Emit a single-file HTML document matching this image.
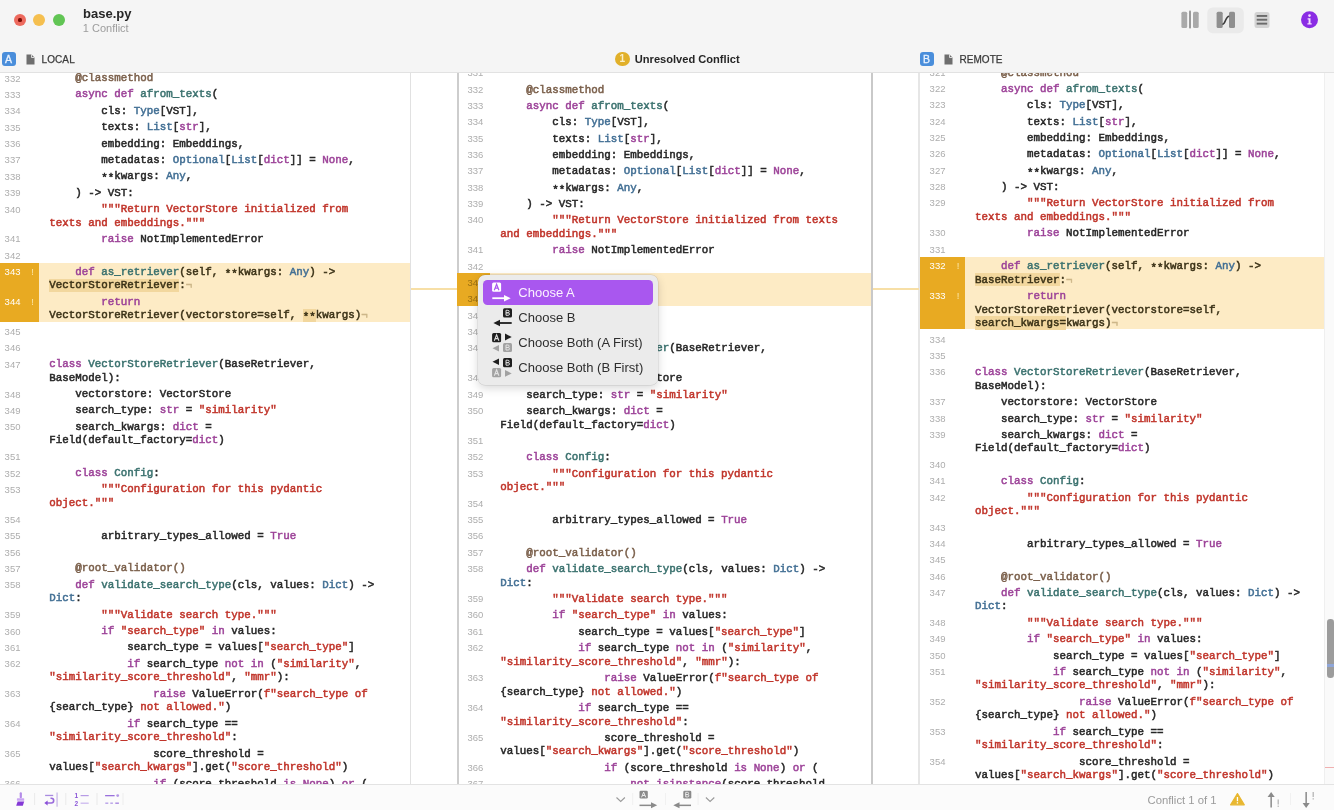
<!DOCTYPE html>
<html><head><meta charset="utf-8"><title>base.py</title>
<style>
*{margin:0;padding:0;box-sizing:border-box}
html,body{width:1334px;height:810px;overflow:hidden;background:#f5f5f5;font-family:"Liberation Sans",sans-serif;position:relative}
body{filter:blur(0.3px)}
.abs{position:absolute}
#clip{position:absolute;left:0;top:72.5px;width:1334px;height:711.5px;overflow:hidden;background:#fff}
#inner{position:absolute;left:0;top:-72.5px;width:1334px;height:810px}
.r{position:absolute;font-family:"Liberation Mono",monospace;font-size:10.83px;line-height:13.6px;height:13.6px;white-space:pre;color:#262626;-webkit-text-stroke:0.5px currentColor}
.n{position:absolute;font-size:9.5px;line-height:13.6px;color:#adadad}
.n.hn{color:#fff}
.n.hm{color:#9a6f12}
.bang{position:absolute;font-size:9.5px;line-height:13.6px;color:#fce7a8}
.eol{color:#cdb789}
.r.hr{color:#3b3217}
.ast{position:relative;top:2.2px}
.t{position:absolute;white-space:pre}
.vsep{position:absolute;top:72px;height:712px}
</style></head><body>

<!-- ===== title bar ===== -->
<div class="abs" style="left:14px;top:14px;width:12px;height:12px;border-radius:50%;background:#ed6a5e"></div>
<div class="abs" style="left:18.4px;top:18.4px;width:3.2px;height:3.2px;border-radius:50%;background:#7a0d05"></div>
<div class="abs" style="left:33.4px;top:14.2px;width:12px;height:12px;border-radius:50%;background:#f5bf4f"></div>
<div class="abs" style="left:52.5px;top:14.2px;width:12px;height:12px;border-radius:50%;background:#61c554"></div>
<div class="t" style="left:83px;top:5.5px;font-size:13px;font-weight:bold;color:#262626">base.py</div>
<div class="t" style="left:82.8px;top:21.5px;font-size:11px;color:#9d9d9d">1 Conflict</div>

<!-- toolbar -->
<svg class="abs" style="left:1170px;top:0" width="164" height="40" viewBox="1170 0 164 40">
  <rect x="1181.4" y="11.7" width="5.8" height="16.2" rx="1.5" fill="#a9a9a9"/>
  <rect x="1189" y="10.6" width="2" height="18" rx="0.8" fill="#9a9a9a"/>
  <rect x="1193" y="11.7" width="5.7" height="16.2" rx="1.5" fill="#a9a9a9"/>
  <rect x="1207.3" y="7.4" width="36.5" height="25.8" rx="5.5" fill="#eaeaea"/>
  <rect x="1216.6" y="11.7" width="6.1" height="16.2" rx="1.5" fill="#8f8f8f"/>
  <rect x="1229" y="11.7" width="6" height="16.2" rx="1.5" fill="#8f8f8f"/>
  <path d="M1222.4 24.4 C1225.6 24.4 1225.4 16.2 1229.2 16.2" stroke="#3a3a3a" stroke-width="1.6" fill="none"/>
  <rect x="1254.5" y="12.1" width="15" height="15.8" rx="2.5" fill="#d3d3d3"/>
  <rect x="1256.7" y="15" width="10.5" height="1.9" fill="#6b6b6b"/>
  <rect x="1256.7" y="18.8" width="10.5" height="1.9" fill="#6b6b6b"/>
  <rect x="1256.7" y="22.7" width="10.5" height="1.9" fill="#6b6b6b"/>
  <circle cx="1309.5" cy="19.7" r="8.5" fill="#8a2ce4"/>
  <circle cx="1309.5" cy="15.6" r="1.3" fill="#f4dcff"/>
  <path d="M1307.6 18.3 h2.9 v4.9 h1.2 v1.3 h-4.3 v-1.3 h1.2 v-3.6 h-1 z" fill="#f4dcff"/>
</svg>

<!-- panel label row -->
<div class="abs" style="left:1.5px;top:51.5px;width:14px;height:14px;border-radius:3px;background:#4a8edb"></div>
<div class="t" style="left:1.5px;top:51.5px;width:14px;height:14px;line-height:14px;text-align:center;font-size:10.5px;color:#eaf3ff;-webkit-text-stroke:0.3px #eaf3ff">A</div>
<svg class="abs" style="left:26px;top:53.6px" width="9" height="11" viewBox="0 0 9 11"><path d="M0.5 0.5 h5 l3 3 v7 h-8 z" fill="#6e6e6e"/><path d="M5.5 0.5 v3 h3" fill="none" stroke="#f5f5f5" stroke-width="0.8"/></svg>
<div class="t" style="left:41.5px;top:54px;font-size:10px;color:#3a3a3a;letter-spacing:0.1px;-webkit-text-stroke:0.25px #3a3a3a">LOCAL</div>

<div class="abs" style="left:615px;top:51.6px;width:14.6px;height:14.6px;border-radius:50%;background:#e1b02a"></div>
<div class="t" style="left:615px;top:51.6px;width:14.6px;line-height:14.6px;text-align:center;font-size:10px;font-weight:bold;color:#fbefc8">1</div>
<div class="t" style="left:634.8px;top:52.8px;font-size:11.1px;font-weight:bold;color:#262626">Unresolved Conflict</div>

<div class="abs" style="left:919.5px;top:51.5px;width:14px;height:14px;border-radius:3px;background:#4a8edb"></div>
<div class="t" style="left:919.5px;top:51.5px;width:14px;height:14px;line-height:14px;text-align:center;font-size:10.5px;color:#eaf3ff;-webkit-text-stroke:0.3px #eaf3ff">B</div>
<svg class="abs" style="left:944px;top:53.6px" width="9" height="11" viewBox="0 0 9 11"><path d="M0.5 0.5 h5 l3 3 v7 h-8 z" fill="#6e6e6e"/><path d="M5.5 0.5 v3 h3" fill="none" stroke="#f5f5f5" stroke-width="0.8"/></svg>
<div class="t" style="left:959.5px;top:54px;font-size:10px;color:#3a3a3a;letter-spacing:0.05px;-webkit-text-stroke:0.25px #3a3a3a">REMOTE</div>

<div class="abs" style="left:0;top:71.5px;width:1334px;height:1px;background:#e2e2e2"></div>

<!-- ===== content ===== -->
<div id="clip"><div id="inner">
<!-- separators -->
<div class="vsep" style="left:410px;width:1px;background:#e1e1e1"></div>
<div class="vsep" style="left:457px;width:2.2px;background:#cdcdcd"></div>
<div class="vsep" style="left:870.8px;width:2.2px;background:#c9c9c9"></div>
<div class="vsep" style="left:918.3px;width:2px;background:#e6e6e6"></div>
<div class="vsep" style="left:1324px;width:10px;background:#fafafa;border-left:1px solid #efefef"></div>
<div class="abs" style="left:0.00px;top:262.80px;width:410.00px;height:59.10px;background:#fdebc5"></div>
<div class="abs" style="left:0.00px;top:262.80px;width:39.40px;height:59.10px;background:#e8aa22"></div>
<div class="abs" style="left:49.30px;top:278.75px;width:130.00px;height:13.60px;background:#f2d79e"></div>
<div class="abs" style="left:302.80px;top:308.70px;width:13.00px;height:13.60px;background:#f2d79e"></div>
<div class="abs" style="left:457.30px;top:273.40px;width:413.50px;height:32.20px;background:#fdebc5"></div>
<div class="abs" style="left:457.30px;top:273.40px;width:32.70px;height:32.20px;background:#e8aa22"></div>
<div class="abs" style="left:920.00px;top:256.70px;width:404.00px;height:72.25px;background:#fdebc5"></div>
<div class="abs" style="left:920.00px;top:256.70px;width:44.70px;height:72.25px;background:#e8aa22"></div>
<div class="abs" style="left:975.00px;top:272.70px;width:84.50px;height:13.60px;background:#f2d79e"></div>
<div class="abs" style="left:975.00px;top:316.25px;width:91.00px;height:13.60px;background:#f2d79e"></div>
<div class="abs" style="left:411.00px;top:288.20px;width:46.00px;height:2.20px;background:#f7dfa6"></div>
<div class="abs" style="left:873.00px;top:288.20px;width:46.00px;height:2.20px;background:#f7dfa6"></div>
<div class="n" style="top:71.70px;left:4.60px">332</div>
<div class="r" style="top:72.10px;left:49.30px">    <span style="color:#7a5f4a">@classmethod</span></div>
<div class="n" style="top:88.05px;left:4.60px">333</div>
<div class="r" style="top:88.45px;left:49.30px">    <span style="color:#9c4298">async</span> <span style="color:#9c4298">def</span> <span style="color:#3a716e">afrom_texts</span>(</div>
<div class="n" style="top:104.40px;left:4.60px">334</div>
<div class="r" style="top:104.80px;left:49.30px">        cls: <span style="color:#426f94">Type</span>[VST],</div>
<div class="n" style="top:120.75px;left:4.60px">335</div>
<div class="r" style="top:121.15px;left:49.30px">        texts: <span style="color:#426f94">List</span>[<span style="color:#9c4298">str</span>],</div>
<div class="n" style="top:137.10px;left:4.60px">336</div>
<div class="r" style="top:137.50px;left:49.30px">        embedding: Embeddings,</div>
<div class="n" style="top:153.45px;left:4.60px">337</div>
<div class="r" style="top:153.85px;left:49.30px">        metadatas: <span style="color:#426f94">Optional</span>[<span style="color:#426f94">List</span>[<span style="color:#9c4298">dict</span>]] = <span style="color:#9c4298">None</span>,</div>
<div class="n" style="top:169.80px;left:4.60px">338</div>
<div class="r" style="top:170.20px;left:49.30px">        <span class="ast">*</span><span class="ast">*</span>kwargs: <span style="color:#426f94">Any</span>,</div>
<div class="n" style="top:186.15px;left:4.60px">339</div>
<div class="r" style="top:186.55px;left:49.30px">    ) -&gt; VST:</div>
<div class="n" style="top:202.50px;left:4.60px">340</div>
<div class="r" style="top:202.90px;left:49.30px">        <span style="color:#c0342a">&quot;&quot;&quot;Return VectorStore initialized from </span></div>
<div class="r" style="top:216.50px;left:49.30px"><span style="color:#c0342a">texts and embeddings.&quot;&quot;&quot;</span></div>
<div class="n" style="top:232.45px;left:4.60px">341</div>
<div class="r" style="top:232.85px;left:49.30px">        <span style="color:#9c4298">raise</span> NotImplementedError</div>
<div class="n" style="top:248.80px;left:4.60px">342</div>
<div class="r" style="top:249.20px;left:49.30px"></div>
<div class="n hn" style="top:265.15px;left:4.60px">343</div>
<div class="bang" style="x;top:265.15px;left:31.20px">!</div>
<div class="r hr" style="top:265.55px;left:49.30px">    <span style="color:#9c4298">def</span> <span style="color:#3a716e">as_retriever</span>(self, <span class="ast">*</span><span class="ast">*</span>kwargs: <span style="color:#426f94">Any</span>) -&gt; </div>
<div class="r hr" style="top:279.15px;left:49.30px">VectorStoreRetriever:<span class="eol">¬</span></div>
<div class="n hn" style="top:295.10px;left:4.60px">344</div>
<div class="bang" style="x;top:295.10px;left:31.20px">!</div>
<div class="r hr" style="top:295.50px;left:49.30px">        <span style="color:#9c4298">return</span> </div>
<div class="r hr" style="top:309.10px;left:49.30px">VectorStoreRetriever(vectorstore=self, <span class="ast">*</span><span class="ast">*</span>kwargs)<span class="eol">¬</span></div>
<div class="n" style="top:325.05px;left:4.60px">345</div>
<div class="r" style="top:325.45px;left:49.30px"></div>
<div class="n" style="top:341.40px;left:4.60px">346</div>
<div class="r" style="top:341.80px;left:49.30px"></div>
<div class="n" style="top:357.75px;left:4.60px">347</div>
<div class="r" style="top:358.15px;left:49.30px"><span style="color:#9c4298">class</span> <span style="color:#3a716e">VectorStoreRetriever</span>(BaseRetriever, </div>
<div class="r" style="top:371.75px;left:49.30px">BaseModel):</div>
<div class="n" style="top:387.70px;left:4.60px">348</div>
<div class="r" style="top:388.10px;left:49.30px">    vectorstore: VectorStore</div>
<div class="n" style="top:404.05px;left:4.60px">349</div>
<div class="r" style="top:404.45px;left:49.30px">    search_type: <span style="color:#9c4298">str</span> = <span style="color:#c0342a">&quot;similarity&quot;</span></div>
<div class="n" style="top:420.40px;left:4.60px">350</div>
<div class="r" style="top:420.80px;left:49.30px">    search_kwargs: <span style="color:#9c4298">dict</span> = </div>
<div class="r" style="top:434.40px;left:49.30px">Field(default_factory=<span style="color:#9c4298">dict</span>)</div>
<div class="n" style="top:450.35px;left:4.60px">351</div>
<div class="r" style="top:450.75px;left:49.30px"></div>
<div class="n" style="top:466.70px;left:4.60px">352</div>
<div class="r" style="top:467.10px;left:49.30px">    <span style="color:#9c4298">class</span> <span style="color:#3a716e">Config</span>:</div>
<div class="n" style="top:483.05px;left:4.60px">353</div>
<div class="r" style="top:483.45px;left:49.30px">        <span style="color:#c0342a">&quot;&quot;&quot;Configuration for this pydantic </span></div>
<div class="r" style="top:497.05px;left:49.30px"><span style="color:#c0342a">object.&quot;&quot;&quot;</span></div>
<div class="n" style="top:513.00px;left:4.60px">354</div>
<div class="r" style="top:513.40px;left:49.30px"></div>
<div class="n" style="top:529.35px;left:4.60px">355</div>
<div class="r" style="top:529.75px;left:49.30px">        arbitrary_types_allowed = <span style="color:#9c4298">True</span></div>
<div class="n" style="top:545.70px;left:4.60px">356</div>
<div class="r" style="top:546.10px;left:49.30px"></div>
<div class="n" style="top:562.05px;left:4.60px">357</div>
<div class="r" style="top:562.45px;left:49.30px">    <span style="color:#7a5f4a">@root_validator()</span></div>
<div class="n" style="top:578.40px;left:4.60px">358</div>
<div class="r" style="top:578.80px;left:49.30px">    <span style="color:#9c4298">def</span> <span style="color:#3a716e">validate_search_type</span>(cls, values: <span style="color:#426f94">Dict</span>) -&gt; </div>
<div class="r" style="top:592.40px;left:49.30px"><span style="color:#426f94">Dict</span>:</div>
<div class="n" style="top:608.35px;left:4.60px">359</div>
<div class="r" style="top:608.75px;left:49.30px">        <span style="color:#c0342a">&quot;&quot;&quot;Validate search type.&quot;&quot;&quot;</span></div>
<div class="n" style="top:624.70px;left:4.60px">360</div>
<div class="r" style="top:625.10px;left:49.30px">        <span style="color:#9c4298">if</span> <span style="color:#c0342a">&quot;search_type&quot;</span> <span style="color:#9c4298">in</span> values:</div>
<div class="n" style="top:641.05px;left:4.60px">361</div>
<div class="r" style="top:641.45px;left:49.30px">            search_type = values[<span style="color:#c0342a">&quot;search_type&quot;</span>]</div>
<div class="n" style="top:657.40px;left:4.60px">362</div>
<div class="r" style="top:657.80px;left:49.30px">            <span style="color:#9c4298">if</span> search_type <span style="color:#9c4298">not</span> <span style="color:#9c4298">in</span> (<span style="color:#c0342a">&quot;similarity&quot;</span>, </div>
<div class="r" style="top:671.40px;left:49.30px"><span style="color:#c0342a">&quot;similarity_score_threshold&quot;</span>, <span style="color:#c0342a">&quot;mmr&quot;</span>):</div>
<div class="n" style="top:687.35px;left:4.60px">363</div>
<div class="r" style="top:687.75px;left:49.30px">                <span style="color:#9c4298">raise</span> ValueError(<span style="color:#c0342a">f&quot;</span><span style="color:#c0342a">search_type of </span></div>
<div class="r" style="top:701.35px;left:49.30px">{search_type}<span style="color:#c0342a"> not allowed.&quot;</span>)</div>
<div class="n" style="top:717.30px;left:4.60px">364</div>
<div class="r" style="top:717.70px;left:49.30px">            <span style="color:#9c4298">if</span> search_type == </div>
<div class="r" style="top:731.30px;left:49.30px"><span style="color:#c0342a">&quot;similarity_score_threshold&quot;</span>:</div>
<div class="n" style="top:747.25px;left:4.60px">365</div>
<div class="r" style="top:747.65px;left:49.30px">                score_threshold = </div>
<div class="r" style="top:761.25px;left:49.30px">values[<span style="color:#c0342a">&quot;search_kwargs&quot;</span>].get(<span style="color:#c0342a">&quot;score_threshold&quot;</span>)</div>
<div class="n" style="top:777.20px;left:4.60px">366</div>
<div class="r" style="top:777.60px;left:49.30px">                <span style="color:#9c4298">if</span> (score_threshold <span style="color:#9c4298">is</span> <span style="color:#9c4298">None</span>) <span style="color:#9c4298">or</span> (</div>
<div class="n" style="top:66.25px;left:467.40px">331</div>
<div class="r" style="top:67.15px;left:500.20px"></div>
<div class="n" style="top:82.60px;left:467.40px">332</div>
<div class="r" style="top:83.50px;left:500.20px">    <span style="color:#7a5f4a">@classmethod</span></div>
<div class="n" style="top:98.95px;left:467.40px">333</div>
<div class="r" style="top:99.85px;left:500.20px">    <span style="color:#9c4298">async</span> <span style="color:#9c4298">def</span> <span style="color:#3a716e">afrom_texts</span>(</div>
<div class="n" style="top:115.30px;left:467.40px">334</div>
<div class="r" style="top:116.20px;left:500.20px">        cls: <span style="color:#426f94">Type</span>[VST],</div>
<div class="n" style="top:131.65px;left:467.40px">335</div>
<div class="r" style="top:132.55px;left:500.20px">        texts: <span style="color:#426f94">List</span>[<span style="color:#9c4298">str</span>],</div>
<div class="n" style="top:148.00px;left:467.40px">336</div>
<div class="r" style="top:148.90px;left:500.20px">        embedding: Embeddings,</div>
<div class="n" style="top:164.35px;left:467.40px">337</div>
<div class="r" style="top:165.25px;left:500.20px">        metadatas: <span style="color:#426f94">Optional</span>[<span style="color:#426f94">List</span>[<span style="color:#9c4298">dict</span>]] = <span style="color:#9c4298">None</span>,</div>
<div class="n" style="top:180.70px;left:467.40px">338</div>
<div class="r" style="top:181.60px;left:500.20px">        <span class="ast">*</span><span class="ast">*</span>kwargs: <span style="color:#426f94">Any</span>,</div>
<div class="n" style="top:197.05px;left:467.40px">339</div>
<div class="r" style="top:197.95px;left:500.20px">    ) -&gt; VST:</div>
<div class="n" style="top:213.40px;left:467.40px">340</div>
<div class="r" style="top:214.30px;left:500.20px">        <span style="color:#c0342a">&quot;&quot;&quot;Return VectorStore initialized from texts </span></div>
<div class="r" style="top:227.90px;left:500.20px"><span style="color:#c0342a">and embeddings.&quot;&quot;&quot;</span></div>
<div class="n" style="top:243.35px;left:467.40px">341</div>
<div class="r" style="top:244.25px;left:500.20px">        <span style="color:#9c4298">raise</span> NotImplementedError</div>
<div class="n" style="top:259.70px;left:467.40px">342</div>
<div class="r" style="top:260.60px;left:500.20px"></div>
<div class="n hm" style="top:276.05px;left:467.40px">343</div>
<div class="r" style="top:276.95px;left:500.20px"></div>
<div class="n hm" style="top:292.40px;left:467.40px">344</div>
<div class="r" style="top:293.30px;left:500.20px"></div>
<div class="n" style="top:308.75px;left:467.40px">345</div>
<div class="r" style="top:309.65px;left:500.20px"></div>
<div class="n" style="top:325.10px;left:467.40px">346</div>
<div class="r" style="top:326.00px;left:500.20px"></div>
<div class="n" style="top:341.45px;left:467.40px">347</div>
<div class="r" style="top:342.35px;left:500.20px"><span style="color:#9c4298">class</span> <span style="color:#3a716e">VectorStoreRetriever</span>(BaseRetriever, </div>
<div class="r" style="top:355.95px;left:500.20px">BaseModel):</div>
<div class="n" style="top:371.40px;left:467.40px">348</div>
<div class="r" style="top:372.30px;left:500.20px">    vectorstore: VectorStore</div>
<div class="n" style="top:387.75px;left:467.40px">349</div>
<div class="r" style="top:388.65px;left:500.20px">    search_type: <span style="color:#9c4298">str</span> = <span style="color:#c0342a">&quot;similarity&quot;</span></div>
<div class="n" style="top:404.10px;left:467.40px">350</div>
<div class="r" style="top:405.00px;left:500.20px">    search_kwargs: <span style="color:#9c4298">dict</span> = </div>
<div class="r" style="top:418.60px;left:500.20px">Field(default_factory=<span style="color:#9c4298">dict</span>)</div>
<div class="n" style="top:434.05px;left:467.40px">351</div>
<div class="r" style="top:434.95px;left:500.20px"></div>
<div class="n" style="top:450.40px;left:467.40px">352</div>
<div class="r" style="top:451.30px;left:500.20px">    <span style="color:#9c4298">class</span> <span style="color:#3a716e">Config</span>:</div>
<div class="n" style="top:466.75px;left:467.40px">353</div>
<div class="r" style="top:467.65px;left:500.20px">        <span style="color:#c0342a">&quot;&quot;&quot;Configuration for this pydantic </span></div>
<div class="r" style="top:481.25px;left:500.20px"><span style="color:#c0342a">object.&quot;&quot;&quot;</span></div>
<div class="n" style="top:496.70px;left:467.40px">354</div>
<div class="r" style="top:497.60px;left:500.20px"></div>
<div class="n" style="top:513.05px;left:467.40px">355</div>
<div class="r" style="top:513.95px;left:500.20px">        arbitrary_types_allowed = <span style="color:#9c4298">True</span></div>
<div class="n" style="top:529.40px;left:467.40px">356</div>
<div class="r" style="top:530.30px;left:500.20px"></div>
<div class="n" style="top:545.75px;left:467.40px">357</div>
<div class="r" style="top:546.65px;left:500.20px">    <span style="color:#7a5f4a">@root_validator()</span></div>
<div class="n" style="top:562.10px;left:467.40px">358</div>
<div class="r" style="top:563.00px;left:500.20px">    <span style="color:#9c4298">def</span> <span style="color:#3a716e">validate_search_type</span>(cls, values: <span style="color:#426f94">Dict</span>) -&gt; </div>
<div class="r" style="top:576.60px;left:500.20px"><span style="color:#426f94">Dict</span>:</div>
<div class="n" style="top:592.05px;left:467.40px">359</div>
<div class="r" style="top:592.95px;left:500.20px">        <span style="color:#c0342a">&quot;&quot;&quot;Validate search type.&quot;&quot;&quot;</span></div>
<div class="n" style="top:608.40px;left:467.40px">360</div>
<div class="r" style="top:609.30px;left:500.20px">        <span style="color:#9c4298">if</span> <span style="color:#c0342a">&quot;search_type&quot;</span> <span style="color:#9c4298">in</span> values:</div>
<div class="n" style="top:624.75px;left:467.40px">361</div>
<div class="r" style="top:625.65px;left:500.20px">            search_type = values[<span style="color:#c0342a">&quot;search_type&quot;</span>]</div>
<div class="n" style="top:641.10px;left:467.40px">362</div>
<div class="r" style="top:642.00px;left:500.20px">            <span style="color:#9c4298">if</span> search_type <span style="color:#9c4298">not</span> <span style="color:#9c4298">in</span> (<span style="color:#c0342a">&quot;similarity&quot;</span>, </div>
<div class="r" style="top:655.60px;left:500.20px"><span style="color:#c0342a">&quot;similarity_score_threshold&quot;</span>, <span style="color:#c0342a">&quot;mmr&quot;</span>):</div>
<div class="n" style="top:671.05px;left:467.40px">363</div>
<div class="r" style="top:671.95px;left:500.20px">                <span style="color:#9c4298">raise</span> ValueError(<span style="color:#c0342a">f&quot;</span><span style="color:#c0342a">search_type of </span></div>
<div class="r" style="top:685.55px;left:500.20px">{search_type}<span style="color:#c0342a"> not allowed.&quot;</span>)</div>
<div class="n" style="top:701.00px;left:467.40px">364</div>
<div class="r" style="top:701.90px;left:500.20px">            <span style="color:#9c4298">if</span> search_type == </div>
<div class="r" style="top:715.50px;left:500.20px"><span style="color:#c0342a">&quot;similarity_score_threshold&quot;</span>:</div>
<div class="n" style="top:730.95px;left:467.40px">365</div>
<div class="r" style="top:731.85px;left:500.20px">                score_threshold = </div>
<div class="r" style="top:745.45px;left:500.20px">values[<span style="color:#c0342a">&quot;search_kwargs&quot;</span>].get(<span style="color:#c0342a">&quot;score_threshold&quot;</span>)</div>
<div class="n" style="top:760.90px;left:467.40px">366</div>
<div class="r" style="top:761.80px;left:500.20px">                <span style="color:#9c4298">if</span> (score_threshold <span style="color:#9c4298">is</span> <span style="color:#9c4298">None</span>) <span style="color:#9c4298">or</span> (</div>
<div class="n" style="top:777.25px;left:467.40px">367</div>
<div class="r" style="top:778.15px;left:500.20px">                    <span style="color:#9c4298">not</span> <span style="color:#9c4298">isinstance</span>(score_threshold,</div>
<div class="r" style="top:791.75px;left:500.20px"> (int, float))</div>
<div class="n" style="top:65.65px;left:929.60px">321</div>
<div class="r" style="top:66.55px;left:975.00px">    <span style="color:#7a5f4a">@classmethod</span></div>
<div class="n" style="top:82.00px;left:929.60px">322</div>
<div class="r" style="top:82.90px;left:975.00px">    <span style="color:#9c4298">async</span> <span style="color:#9c4298">def</span> <span style="color:#3a716e">afrom_texts</span>(</div>
<div class="n" style="top:98.35px;left:929.60px">323</div>
<div class="r" style="top:99.25px;left:975.00px">        cls: <span style="color:#426f94">Type</span>[VST],</div>
<div class="n" style="top:114.70px;left:929.60px">324</div>
<div class="r" style="top:115.60px;left:975.00px">        texts: <span style="color:#426f94">List</span>[<span style="color:#9c4298">str</span>],</div>
<div class="n" style="top:131.05px;left:929.60px">325</div>
<div class="r" style="top:131.95px;left:975.00px">        embedding: Embeddings,</div>
<div class="n" style="top:147.40px;left:929.60px">326</div>
<div class="r" style="top:148.30px;left:975.00px">        metadatas: <span style="color:#426f94">Optional</span>[<span style="color:#426f94">List</span>[<span style="color:#9c4298">dict</span>]] = <span style="color:#9c4298">None</span>,</div>
<div class="n" style="top:163.75px;left:929.60px">327</div>
<div class="r" style="top:164.65px;left:975.00px">        <span class="ast">*</span><span class="ast">*</span>kwargs: <span style="color:#426f94">Any</span>,</div>
<div class="n" style="top:180.10px;left:929.60px">328</div>
<div class="r" style="top:181.00px;left:975.00px">    ) -&gt; VST:</div>
<div class="n" style="top:196.45px;left:929.60px">329</div>
<div class="r" style="top:197.35px;left:975.00px">        <span style="color:#c0342a">&quot;&quot;&quot;Return VectorStore initialized from </span></div>
<div class="r" style="top:210.95px;left:975.00px"><span style="color:#c0342a">texts and embeddings.&quot;&quot;&quot;</span></div>
<div class="n" style="top:226.40px;left:929.60px">330</div>
<div class="r" style="top:227.30px;left:975.00px">        <span style="color:#9c4298">raise</span> NotImplementedError</div>
<div class="n" style="top:242.75px;left:929.60px">331</div>
<div class="r" style="top:243.65px;left:975.00px"></div>
<div class="n hn" style="top:259.10px;left:929.60px">332</div>
<div class="bang" style="x;top:259.10px;left:956.80px">!</div>
<div class="r hr" style="top:260.00px;left:975.00px">    <span style="color:#9c4298">def</span> <span style="color:#3a716e">as_retriever</span>(self, <span class="ast">*</span><span class="ast">*</span>kwargs: <span style="color:#426f94">Any</span>) -&gt; </div>
<div class="r hr" style="top:273.60px;left:975.00px">BaseRetriever:<span class="eol">¬</span></div>
<div class="n hn" style="top:289.05px;left:929.60px">333</div>
<div class="bang" style="x;top:289.05px;left:956.80px">!</div>
<div class="r hr" style="top:289.95px;left:975.00px">        <span style="color:#9c4298">return</span> </div>
<div class="r hr" style="top:303.55px;left:975.00px">VectorStoreRetriever(vectorstore=self, </div>
<div class="r hr" style="top:317.15px;left:975.00px">search_kwargs=kwargs)<span class="eol">¬</span></div>
<div class="n" style="top:332.60px;left:929.60px">334</div>
<div class="r" style="top:333.50px;left:975.00px"></div>
<div class="n" style="top:348.95px;left:929.60px">335</div>
<div class="r" style="top:349.85px;left:975.00px"></div>
<div class="n" style="top:365.30px;left:929.60px">336</div>
<div class="r" style="top:366.20px;left:975.00px"><span style="color:#9c4298">class</span> <span style="color:#3a716e">VectorStoreRetriever</span>(BaseRetriever, </div>
<div class="r" style="top:379.80px;left:975.00px">BaseModel):</div>
<div class="n" style="top:395.25px;left:929.60px">337</div>
<div class="r" style="top:396.15px;left:975.00px">    vectorstore: VectorStore</div>
<div class="n" style="top:411.60px;left:929.60px">338</div>
<div class="r" style="top:412.50px;left:975.00px">    search_type: <span style="color:#9c4298">str</span> = <span style="color:#c0342a">&quot;similarity&quot;</span></div>
<div class="n" style="top:427.95px;left:929.60px">339</div>
<div class="r" style="top:428.85px;left:975.00px">    search_kwargs: <span style="color:#9c4298">dict</span> = </div>
<div class="r" style="top:442.45px;left:975.00px">Field(default_factory=<span style="color:#9c4298">dict</span>)</div>
<div class="n" style="top:457.90px;left:929.60px">340</div>
<div class="r" style="top:458.80px;left:975.00px"></div>
<div class="n" style="top:474.25px;left:929.60px">341</div>
<div class="r" style="top:475.15px;left:975.00px">    <span style="color:#9c4298">class</span> <span style="color:#3a716e">Config</span>:</div>
<div class="n" style="top:490.60px;left:929.60px">342</div>
<div class="r" style="top:491.50px;left:975.00px">        <span style="color:#c0342a">&quot;&quot;&quot;Configuration for this pydantic </span></div>
<div class="r" style="top:505.10px;left:975.00px"><span style="color:#c0342a">object.&quot;&quot;&quot;</span></div>
<div class="n" style="top:520.55px;left:929.60px">343</div>
<div class="r" style="top:521.45px;left:975.00px"></div>
<div class="n" style="top:536.90px;left:929.60px">344</div>
<div class="r" style="top:537.80px;left:975.00px">        arbitrary_types_allowed = <span style="color:#9c4298">True</span></div>
<div class="n" style="top:553.25px;left:929.60px">345</div>
<div class="r" style="top:554.15px;left:975.00px"></div>
<div class="n" style="top:569.60px;left:929.60px">346</div>
<div class="r" style="top:570.50px;left:975.00px">    <span style="color:#7a5f4a">@root_validator()</span></div>
<div class="n" style="top:585.95px;left:929.60px">347</div>
<div class="r" style="top:586.85px;left:975.00px">    <span style="color:#9c4298">def</span> <span style="color:#3a716e">validate_search_type</span>(cls, values: <span style="color:#426f94">Dict</span>) -&gt; </div>
<div class="r" style="top:600.45px;left:975.00px"><span style="color:#426f94">Dict</span>:</div>
<div class="n" style="top:615.90px;left:929.60px">348</div>
<div class="r" style="top:616.80px;left:975.00px">        <span style="color:#c0342a">&quot;&quot;&quot;Validate search type.&quot;&quot;&quot;</span></div>
<div class="n" style="top:632.25px;left:929.60px">349</div>
<div class="r" style="top:633.15px;left:975.00px">        <span style="color:#9c4298">if</span> <span style="color:#c0342a">&quot;search_type&quot;</span> <span style="color:#9c4298">in</span> values:</div>
<div class="n" style="top:648.60px;left:929.60px">350</div>
<div class="r" style="top:649.50px;left:975.00px">            search_type = values[<span style="color:#c0342a">&quot;search_type&quot;</span>]</div>
<div class="n" style="top:664.95px;left:929.60px">351</div>
<div class="r" style="top:665.85px;left:975.00px">            <span style="color:#9c4298">if</span> search_type <span style="color:#9c4298">not</span> <span style="color:#9c4298">in</span> (<span style="color:#c0342a">&quot;similarity&quot;</span>, </div>
<div class="r" style="top:679.45px;left:975.00px"><span style="color:#c0342a">&quot;similarity_score_threshold&quot;</span>, <span style="color:#c0342a">&quot;mmr&quot;</span>):</div>
<div class="n" style="top:694.90px;left:929.60px">352</div>
<div class="r" style="top:695.80px;left:975.00px">                <span style="color:#9c4298">raise</span> ValueError(<span style="color:#c0342a">f&quot;</span><span style="color:#c0342a">search_type of </span></div>
<div class="r" style="top:709.40px;left:975.00px">{search_type}<span style="color:#c0342a"> not allowed.&quot;</span>)</div>
<div class="n" style="top:724.85px;left:929.60px">353</div>
<div class="r" style="top:725.75px;left:975.00px">            <span style="color:#9c4298">if</span> search_type == </div>
<div class="r" style="top:739.35px;left:975.00px"><span style="color:#c0342a">&quot;similarity_score_threshold&quot;</span>:</div>
<div class="n" style="top:754.80px;left:929.60px">354</div>
<div class="r" style="top:755.70px;left:975.00px">                score_threshold = </div>
<div class="r" style="top:769.30px;left:975.00px">values[<span style="color:#c0342a">&quot;search_kwargs&quot;</span>].get(<span style="color:#c0342a">&quot;score_threshold&quot;</span>)</div>
<div class="abs" style="left:1327px;top:619.3px;width:6.5px;height:59.2px;border-radius:3.3px;background:#9c9c9c"></div>
<div class="abs" style="left:1327px;top:663.5px;width:6.5px;height:3px;background:#8fa6d8"></div>
<div class="abs" style="left:1325px;top:767px;width:9px;height:1px;background:#f0b0b0"></div>
</div></div>

<!-- ===== popup menu ===== -->
<div class="abs" style="left:478.2px;top:274.5px;width:180px;height:110.2px;border-radius:7px;background:#ebebeb;box-shadow:0 0 0 0.5px rgba(0,0,0,0.12),0 3px 10px rgba(0,0,0,0.16)"></div>
<div class="abs" style="left:482.8px;top:279.9px;width:170.4px;height:24.8px;border-radius:4.5px;background:#a957ef"></div>
<div class="t" style="left:518.3px;top:284.5px;font-size:13px;color:#fbf1ff">Choose A</div>
<div class="t" style="left:518.3px;top:309.7px;font-size:13px;color:#2e2e2e">Choose B</div>
<div class="t" style="left:518.3px;top:334.9px;font-size:13px;color:#2e2e2e">Choose Both (A First)</div>
<div class="t" style="left:518.3px;top:360.1px;font-size:13px;color:#2e2e2e">Choose Both (B First)</div>
<svg class="abs" style="left:478px;top:274px" width="40" height="112" viewBox="478 274 40 112">
  <!-- Choose A -->
  <rect x="492.1" y="282.5" width="9" height="9.3" rx="1.5" fill="#fff"/>
  <path d="M494.3 290.3 l2.3 -6 l2.3 6 M495.2 288.2 h2.8" stroke="#a957ef" stroke-width="1.2" fill="none"/>
  <rect x="492.3" y="297.3" width="12.5" height="1.8" fill="#fff"/>
  <path d="M504 295 L510.7 298.2 L504 301.4 Z" fill="#fff"/>
  <!-- Choose B -->
  <rect x="503" y="308.2" width="9" height="9.2" rx="1.5" fill="#1e1e1e"/>
  <path d="M506 310.3 v5 h2.2 a1.2 1.2 0 0 0 0 -2.5 h-2.2 m0 0 h1.9 a1.1 1.1 0 0 0 0 -2.5 h-1.9" stroke="#ddd" stroke-width="1" fill="none"/>
  <rect x="499.5" y="322.1" width="12.2" height="1.8" fill="#1e1e1e"/>
  <path d="M500 319.8 L493.4 323 L500 326.2 Z" fill="#1e1e1e"/>
  <!-- Both A first -->
  <rect x="492.1" y="332.9" width="9" height="9.3" rx="1.5" fill="#1e1e1e"/>
  <path d="M494.3 340.7 l2.3 -6 l2.3 6 M495.2 338.6 h2.8" stroke="#ddd" stroke-width="1.1" fill="none"/>
  <path d="M505 333.6 L511.7 337 L505 340.4 Z" fill="#1e1e1e"/>
  <path d="M499 345 L492.5 348.3 L499 351.6 Z" fill="#a2a2a2"/>
  <rect x="503" y="342.9" width="9" height="9" rx="1.5" fill="#a2a2a2"/>
  <path d="M506 345 v5 h2.2 a1.2 1.2 0 0 0 0 -2.5 h-2.2 m0 0 h1.9 a1.1 1.1 0 0 0 0 -2.5 h-1.9" stroke="#e2e2e2" stroke-width="1" fill="none"/>
  <!-- Both B first -->
  <path d="M499 358.5 L492.5 361.8 L499 365.1 Z" fill="#1e1e1e"/>
  <rect x="503" y="358" width="9" height="9.3" rx="1.5" fill="#1e1e1e"/>
  <path d="M506 360.2 v5 h2.2 a1.2 1.2 0 0 0 0 -2.5 h-2.2 m0 0 h1.9 a1.1 1.1 0 0 0 0 -2.5 h-1.9" stroke="#ddd" stroke-width="1" fill="none"/>
  <rect x="492.1" y="367.9" width="9" height="9.3" rx="1.5" fill="#a2a2a2"/>
  <path d="M494.3 375.7 l2.3 -6 l2.3 6 M495.2 373.6 h2.8" stroke="#e2e2e2" stroke-width="1.1" fill="none"/>
  <path d="M505 370 L511.7 373.4 L505 376.8 Z" fill="#a2a2a2"/>
</svg>

<!-- ===== footer ===== -->
<div class="abs" style="left:0;top:784px;width:1334px;height:26px;background:#fbfbfb;border-top:1px solid #e3e3e3"></div>
<svg class="abs" style="left:0;top:784px" width="1334" height="26" viewBox="0 784 1334 26">
  <!-- brush -->
  <rect x="19.7" y="792.3" width="2.2" height="6" rx="1" fill="#b48ce8"/>
  <rect x="16.9" y="798.2" width="7.3" height="2.6" rx="0.6" fill="#c9a5f2"/>
  <path d="M17.6 801.6 h6.6 l-1.4 4.2 h-6.6 z" fill="#8438d6"/>
  <rect x="34.3" y="793" width="0.8" height="12" fill="#e6e6e6"/>
  <!-- wrap -->
  <rect x="45.1" y="794.8" width="8.1" height="1.3" fill="#a98be0"/>
  <path d="M50.5 798.2 h0.8 a2.4 2.4 0 0 1 0 4.8 h-4.5" stroke="#9a6bdc" stroke-width="1.6" fill="none"/>
  <path d="M47.6 800.5 L44.3 803 L47.6 805.5 Z" fill="#8a4fd8"/>
  <rect x="56.6" y="792.5" width="0.9" height="14.2" fill="#b39be0"/>
  <rect x="65.4" y="793" width="0.8" height="12" fill="#e6e6e6"/>
  <!-- numbered list -->
  <text x="74.6" y="798" font-family="Liberation Sans" font-weight="bold" font-size="6.5" fill="#8a55d8">1</text>
  <text x="74.6" y="805.8" font-family="Liberation Sans" font-weight="bold" font-size="6.5" fill="#8a55d8">2</text>
  <rect x="80.6" y="795" width="8.1" height="1.2" fill="#b79be6"/>
  <rect x="80.6" y="802.6" width="8.1" height="1.2" fill="#c9b4ee"/>
  <rect x="96.6" y="793" width="0.8" height="12" fill="#e6e6e6"/>
  <!-- dashes -->
  <rect x="105.1" y="795" width="9.5" height="1.3" fill="#9a70dc"/>
  <circle cx="117.7" cy="795.6" r="1.4" fill="#b497e6"/>
  <rect x="105.3" y="802.5" width="3" height="1.4" fill="#b7a0e8"/>
  <rect x="110.3" y="802.5" width="2.6" height="1.4" fill="#b7a0e8"/>
  <rect x="115.3" y="802.5" width="3.6" height="1.4" fill="#a988e0"/>
  <rect x="122.6" y="793" width="0.8" height="12" fill="#ececec"/>

  <!-- center controls -->
  <path d="M616.5 797.5 L620.7 801.5 L624.9 797.5" stroke="#9a9a9a" stroke-width="1.1" fill="none"/>
  <rect x="632.4" y="793" width="0.7" height="12" fill="#ececec"/>
  <rect x="639.5" y="790.7" width="8.3" height="7.8" rx="1.3" fill="#8a8a8a"/>
  <path d="M641.6 797.3 l2.05 -5.2 l2.05 5.2 M642.4 795.5 h2.5" stroke="#eee" stroke-width="1" fill="none"/>
  <rect x="639.5" y="804.6" width="12" height="1.5" fill="#8a8a8a"/>
  <path d="M651 802.3 L657.2 805.3 L651 808.3 Z" fill="#8a8a8a"/>
  <rect x="665" y="793" width="0.7" height="12" fill="#ececec"/>
  <rect x="683.3" y="790.7" width="8" height="7.8" rx="1.3" fill="#8a8a8a"/>
  <path d="M685.7 792.3 v4.6 h2 a1.15 1.15 0 0 0 0 -2.3 h-2 m0 0 h1.8 a1.1 1.1 0 0 0 0 -2.3 h-1.8" stroke="#eee" stroke-width="0.9" fill="none"/>
  <rect x="679" y="804.6" width="12" height="1.5" fill="#8a8a8a"/>
  <path d="M679.5 802.3 L673.3 805.3 L679.5 808.3 Z" fill="#8a8a8a"/>
  <rect x="697.7" y="793" width="0.7" height="12" fill="#ececec"/>
  <path d="M705.9 797.5 L710.1 801.5 L714.3 797.5" stroke="#9a9a9a" stroke-width="1.1" fill="none"/>

  <!-- right controls -->
  <path d="M1237.45 793.6 L1244.3 804.8 H1230.6 Z" fill="#e8b730" stroke="#e8b730" stroke-width="1.2" stroke-linejoin="round"/>
  <rect x="1236.8" y="797" width="1.3" height="4.2" fill="#fff"/>
  <rect x="1236.8" y="802.2" width="1.3" height="1.3" fill="#fff"/>
  <rect x="1270.4" y="794.5" width="1.5" height="13" fill="#8a8a8a"/>
  <path d="M1267.6 797 L1271.15 792 L1274.7 797 Z" fill="#8a8a8a"/>
  <rect x="1277.6" y="799.5" width="1.2" height="5" fill="#b0b0b0"/>
  <rect x="1277.6" y="805.6" width="1.2" height="1.3" fill="#b0b0b0"/>
  <rect x="1290.3" y="793" width="0.7" height="12" fill="#ececec"/>
  <rect x="1305.4" y="792" width="1.5" height="13" fill="#8a8a8a"/>
  <path d="M1302.6 803 L1306.15 808 L1309.7 803 Z" fill="#8a8a8a"/>
  <rect x="1312.6" y="792" width="1.2" height="5" fill="#b0b0b0"/>
  <rect x="1312.6" y="798.2" width="1.2" height="1.3" fill="#b0b0b0"/>
</svg>
<div class="t" style="left:1147.5px;top:794px;font-size:11.3px;color:#9b9b9b">Conflict 1 of 1</div>

</body></html>
